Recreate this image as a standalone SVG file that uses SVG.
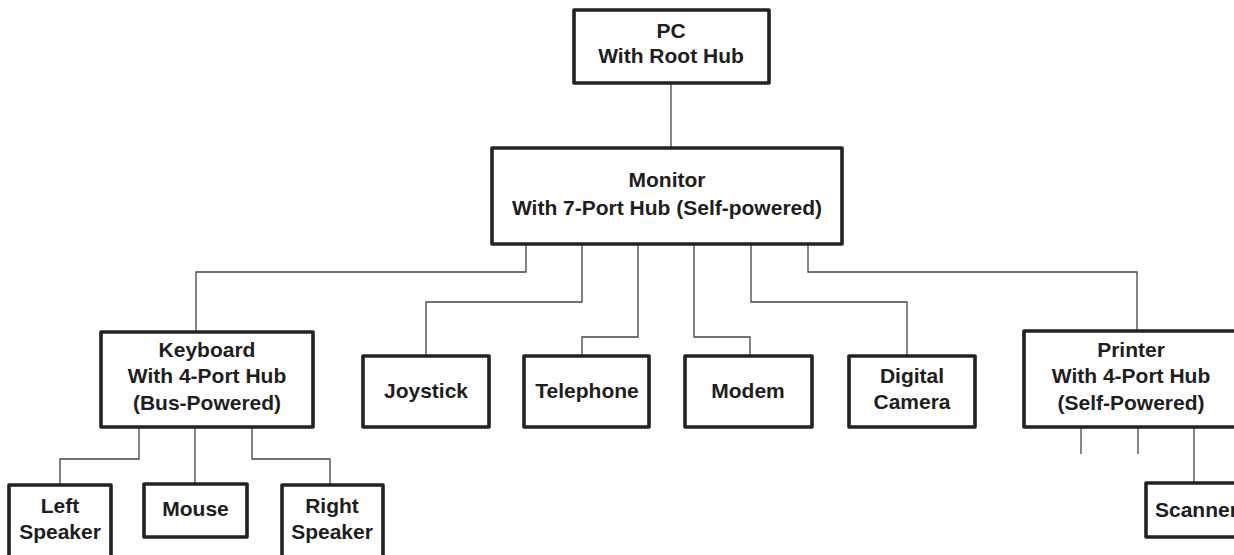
<svg xmlns="http://www.w3.org/2000/svg" width="1234" height="555" viewBox="0 0 1234 555">
<style>
.box{fill:#fff;stroke:#222;stroke-width:3.6;stroke-linejoin:round}
.t{font-family:"Liberation Sans",Arial,sans-serif;font-weight:bold;font-size:21px;fill:#1e1e1e;text-anchor:middle}
.c{fill:none;stroke:#444;stroke-width:1.3}
</style>
<rect width="1234" height="555" fill="#fff"/>
<g id="connectors">
<path class="c" d="M671 83V148"/>
<path class="c" d="M526 244V272H196V332"/>
<path class="c" d="M582 244V302H426V356"/>
<path class="c" d="M638 244V337H582V356"/>
<path class="c" d="M694 244V337H750V356"/>
<path class="c" d="M751 244V302H907V356"/>
<path class="c" d="M808 244V272H1137V331"/>
<path class="c" d="M139 427V459H60V485"/>
<path class="c" d="M195 427V484"/>
<path class="c" d="M252 427V459H330V485"/>
<path class="c" d="M1081 427V454"/>
<path class="c" d="M1138 427V454"/>
<path class="c" d="M1194 427V483"/>
</g>
<g id="pc">
<rect class="box" x="574" y="10" width="195" height="73"/>
<text class="t" x="671" y="38">PC</text>
<text class="t" x="671" y="63">With Root Hub</text>
</g>
<g id="monitor">
<rect class="box" x="492" y="148" width="350" height="96"/>
<text class="t" x="667" y="187">Monitor</text>
<text class="t" x="667" y="215">With 7-Port Hub (Self-powered)</text>
</g>
<g id="keyboard">
<rect class="box" x="101" y="332" width="212" height="95"/>
<text class="t" x="207" y="357">Keyboard</text>
<text class="t" x="207" y="383">With 4-Port Hub</text>
<text class="t" x="207" y="410">(Bus-Powered)</text>
</g>
<g id="joystick">
<rect class="box" x="363" y="356" width="126" height="71"/>
<text class="t" x="426" y="398">Joystick</text>
</g>
<g id="telephone">
<rect class="box" x="524" y="356" width="125" height="71"/>
<text class="t" x="587" y="398">Telephone</text>
</g>
<g id="modem">
<rect class="box" x="685" y="356" width="127" height="71"/>
<text class="t" x="748" y="398">Modem</text>
</g>
<g id="camera">
<rect class="box" x="849" y="356" width="126" height="71"/>
<text class="t" x="912" y="383">Digital</text>
<text class="t" x="912" y="409">Camera</text>
</g>
<g id="printer">
<rect class="box" x="1024" y="331" width="216" height="96"/>
<text class="t" x="1131" y="357">Printer</text>
<text class="t" x="1131" y="383">With 4-Port Hub</text>
<text class="t" x="1131" y="410">(Self-Powered)</text>
</g>
<g id="left-speaker">
<rect class="box" x="9" y="485" width="102" height="80"/>
<text class="t" x="60" y="513">Left</text>
<text class="t" x="60" y="539">Speaker</text>
</g>
<g id="mouse">
<rect class="box" x="144" y="484" width="103" height="53"/>
<text class="t" x="195.5" y="516">Mouse</text>
</g>
<g id="right-speaker">
<rect class="box" x="282" y="485" width="101" height="80"/>
<text class="t" x="332" y="513">Right</text>
<text class="t" x="332" y="539">Speaker</text>
</g>
<g id="scanner">
<rect class="box" x="1146" y="483" width="100" height="54"/>
<text class="t" x="1155" y="517" style="text-anchor:start">Scanner</text>
</g>
</svg>
